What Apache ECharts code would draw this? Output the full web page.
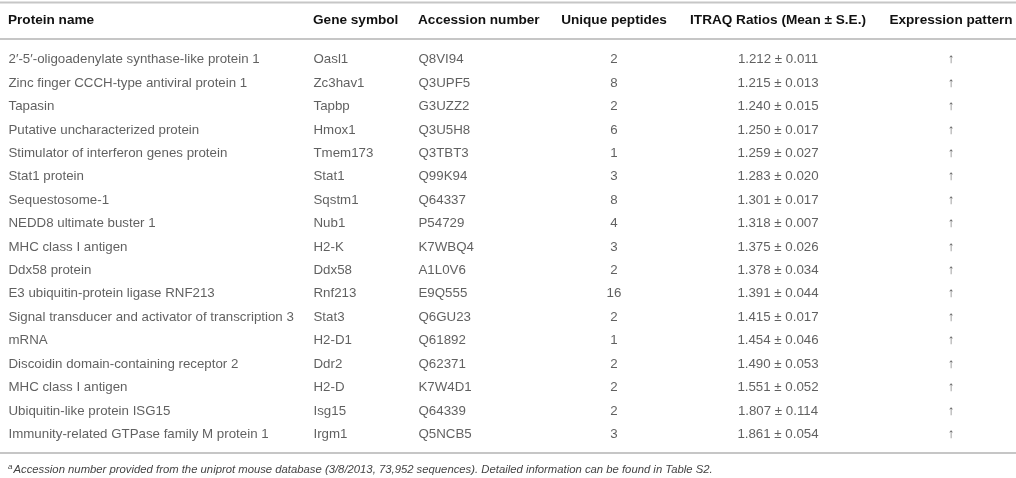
<!DOCTYPE html>
<html>
<head>
<meta charset="utf-8">
<script src="https://cdn.jsdelivr.net/npm/echarts@6/dist/echarts.min.js"></script>
<style>
  html, body { margin: 0; padding: 0; background: #fff; }
  #tableChart { width: 1016px; height: 478px; }
</style>
</head>
<body>
<div id="tableChart"></div>
<script>
// table data
var headers = ['Protein name', 'Gene symbol', 'Accession number', 'Unique peptides', 'ITRAQ Ratios (Mean \u00b1 S.E.)', 'Expression pattern'];
var proteinNames = [
    '2\u2032-5\u2032-oligoadenylate synthase-like protein 1',
    'Zinc finger CCCH-type antiviral protein 1',
    'Tapasin',
    'Putative uncharacterized protein',
    'Stimulator of interferon genes protein',
    'Stat1 protein',
    'Sequestosome-1',
    'NEDD8 ultimate buster 1',
    'MHC class I antigen',
    'Ddx58 protein',
    'E3 ubiquitin-protein ligase RNF213',
    'Signal transducer and activator of transcription 3',
    'mRNA',
    'Discoidin domain-containing receptor 2',
    'MHC class I antigen',
    'Ubiquitin-like protein ISG15',
    'Immunity-related GTPase family M protein 1'
];
var geneSymbols = ['Oasl1', 'Zc3hav1', 'Tapbp', 'Hmox1', 'Tmem173', 'Stat1', 'Sqstm1', 'Nub1', 'H2-K', 'Ddx58',
    'Rnf213', 'Stat3', 'H2-D1', 'Ddr2', 'H2-D', 'Isg15', 'Irgm1'];
var accessions = ['Q8VI94', 'Q3UPF5', 'G3UZZ2', 'Q3U5H8', 'Q3TBT3', 'Q99K94', 'Q64337', 'P54729', 'K7WBQ4', 'A1L0V6',
    'E9Q555', 'Q6GU23', 'Q61892', 'Q62371', 'K7W4D1', 'Q64339', 'Q5NCB5'];
var uniquePeptides = [2, 8, 2, 6, 1, 3, 8, 4, 3, 2, 16, 2, 1, 2, 2, 2, 3];
var ratioMeans = [1.212, 1.215, 1.240, 1.250, 1.259, 1.283, 1.301, 1.318, 1.375, 1.378, 1.391, 1.415, 1.454, 1.490, 1.551, 1.807, 1.861];
var ratioSEs = [0.011, 0.013, 0.015, 0.017, 0.027, 0.020, 0.017, 0.007, 0.026, 0.034, 0.044, 0.017, 0.046, 0.053, 0.052, 0.114, 0.054];
var patterns = ['\u2191', '\u2191', '\u2191', '\u2191', '\u2191', '\u2191', '\u2191', '\u2191', '\u2191', '\u2191',
    '\u2191', '\u2191', '\u2191', '\u2191', '\u2191', '\u2191', '\u2191'];
var footnote = 'Accession number provided from the uniprot mouse database (3/8/2013, 73,952 sequences). Detailed information can be found in Table S2.';

window.onload = function () {
    tableChartShow();
}

function tableChartShow() {
    var myChart = echarts.init(document.getElementById('tableChart'));

    var font = 'Liberation Sans';
    var textColor = '#383838';
    var lineColor = '#c6c6c6';

    // column anchors on the hidden x axis and how text sits on them
    var colX = [8, 313, 418, 614, 778, 951];
    var colAlign = ['left', 'left', 'left', 'center', 'center', 'center'];

    var rowIds = proteinNames.map(function (n, i) { return 'r' + i; });

    var columns = [
        proteinNames,
        geneSymbols,
        accessions,
        uniquePeptides.map(String),
        ratioMeans.map(function (m, i) { return m.toFixed(3) + ' \u00b1 ' + ratioSEs[i].toFixed(3); }),
        patterns
    ];

    var series = columns.map(function (col, c) {
        return {
            type: 'scatter',
            symbolSize: 1,
            itemStyle: { color: 'transparent' },
            silent: true,
            label: {
                show: true,
                position: colAlign[c] === 'left' ? 'right' : 'inside',
                distance: 0,
                color: textColor,
                fontFamily: font,
                fontSize: 13.3,
                formatter: function (p) { return p.data.text; }
            },
            data: col.map(function (t, i) {
                return { value: [colX[c], rowIds[i]], text: t };
            })
        };
    });

    // header, rules and footnote
    var graphics = [
        { type: 'line', shape: { x1: 0, y1: 2.5, x2: 1016, y2: 2.5 }, style: { stroke: lineColor, lineWidth: 2 } },
        { type: 'line', shape: { x1: 0, y1: 39, x2: 1016, y2: 39 }, style: { stroke: lineColor, lineWidth: 2 } },
        { type: 'line', shape: { x1: 0, y1: 453, x2: 1016, y2: 453 }, style: { stroke: lineColor, lineWidth: 2 } }
    ];
    headers.forEach(function (h, c) {
        graphics.push({
            type: 'text',
            x: colX[c],
            y: 20,
            style: {
                text: h,
                fill: '#111',
                font: 'bold 13.6px "' + font + '"',
                align: colAlign[c],
                verticalAlign: 'middle'
            }
        });
    });
    graphics.push({
        type: 'text',
        x: 8,
        y: 470,
        style: {
            rich: {
                sup: { fontSize: 8, fontStyle: 'italic', fill: '#444', fontFamily: font, verticalAlign: 'top', padding: [0, 1, 6, 0] },
                t: { fontSize: 11.3, fontStyle: 'italic', fill: '#444', fontFamily: font }
            },
            text: '{sup|a}{t|' + footnote + '}',
            verticalAlign: 'middle'
        }
    });

    var option = {
        animation: false,
        grid: { left: 0, right: 0, top: 48, bottom: 32 },
        xAxis: {
            type: 'value',
            min: 0,
            max: 1016,
            show: false
        },
        yAxis: {
            type: 'category',
            inverse: true,
            data: rowIds,
            axisLabel: { show: false },
            axisTick: { show: false },
            axisLine: { show: false },
            splitLine: { show: false }
        },
        graphic: graphics,
        series: series
    };

    myChart.setOption(option);
}
</script>
</body>
</html>
